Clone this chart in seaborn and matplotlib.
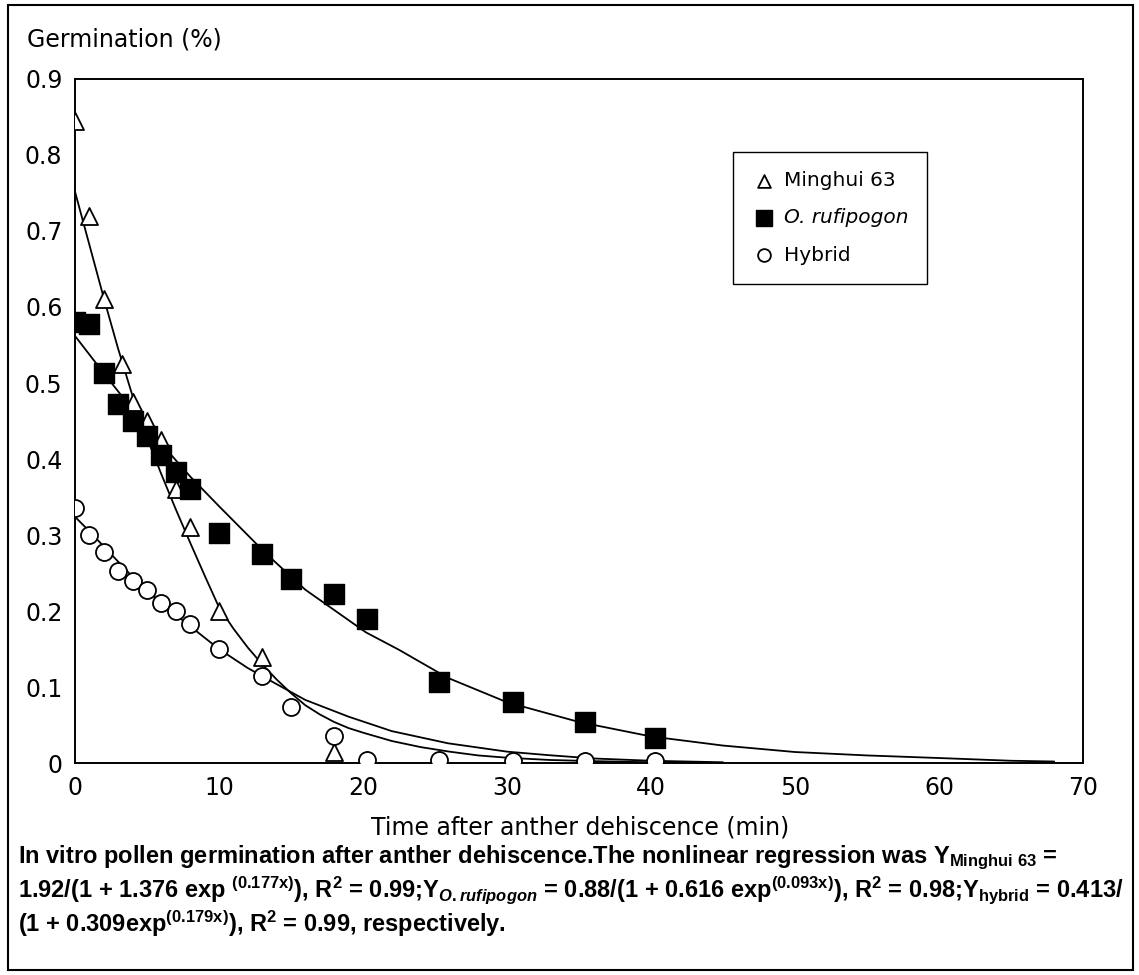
import matplotlib
matplotlib.use("Agg")
import matplotlib.pyplot as plt
import matplotlib.patches as patches
import seaborn as sns

minghui_x = [0, 1, 2, 3.3, 4, 5, 6, 7, 8, 10, 13, 18, 20.3, 25.3, 30.4, 35.4, 40.3]
minghui_y = [0.845, 0.72, 0.61, 0.525, 0.475, 0.45, 0.425, 0.36, 0.31, 0.2, 0.14,
             0.015, 0.004, 0.004, 0.003, 0.003, 0.003]

ruf_x = [0, 1, 2, 3, 4, 5, 6, 7, 8, 10, 13, 15, 18, 20.3, 25.3, 30.4, 35.4, 40.3]
ruf_y = [0.58, 0.577, 0.513, 0.473, 0.45, 0.43, 0.405, 0.383, 0.36, 0.303, 0.275,
         0.242, 0.222, 0.19, 0.107, 0.08, 0.054, 0.033]

hybrid_x = [0, 1, 2, 3, 4, 5, 6, 7, 8, 10, 13, 15, 18, 20.3, 25.3, 30.4, 35.4, 40.3]
hybrid_y = [0.335, 0.3, 0.277, 0.252, 0.24, 0.228, 0.21, 0.2, 0.183, 0.15, 0.115,
            0.074, 0.035, 0.004, 0.004, 0.003, 0.003, 0.003]

# fitted curves
minghui_cx = [0, 1, 2, 3, 4, 5, 6, 7, 8, 9, 10, 11, 12, 13, 14, 15, 16, 17, 18,
              19, 20, 22, 24, 26, 28, 30, 33, 36, 40, 45]
minghui_cy = [0.752, 0.682, 0.612, 0.545, 0.483, 0.428, 0.38, 0.334, 0.29, 0.247,
              0.205, 0.177, 0.152, 0.13, 0.11, 0.092, 0.076, 0.064, 0.054, 0.046,
              0.04, 0.029, 0.021, 0.015, 0.01, 0.007, 0.004, 0.0025, 0.001, 0.0]

hybrid_cx = [0, 1, 2, 3, 4, 5, 6, 7, 8, 10, 12, 13.7, 16, 19, 22, 25.9, 30, 32.8,
             36, 40, 45]
hybrid_cy = [0.324, 0.305, 0.285, 0.265, 0.245, 0.228, 0.21, 0.195, 0.18, 0.15,
             0.125, 0.107, 0.083, 0.061, 0.042, 0.026, 0.015, 0.0105, 0.006, 0.003,
             0.001]

ruf_cx = [0, 2, 4, 6, 8, 10, 13.3, 16, 20.2, 22.5, 25.9, 30, 35, 40, 45, 50, 55,
          60, 65, 68]
ruf_cy = [0.562, 0.513, 0.465, 0.42, 0.377, 0.338, 0.275, 0.228, 0.172, 0.149,
          0.112, 0.08, 0.054, 0.035, 0.023, 0.0145, 0.01, 0.0066, 0.003, 0.002]

x_ticks = [0, 10, 20, 30, 40, 50, 60, 70]
y_ticks = [0, 0.1, 0.2, 0.3, 0.4, 0.5, 0.6, 0.7, 0.8, 0.9]
y_ticklabels = ["0", "0.1", "0.2", "0.3", "0.4", "0.5", "0.6", "0.7", "0.8", "0.9"]

sns.set_style("white")
plt.rcParams["font.family"] = ["DejaVu Sans"]
plt.rcParams["text.color"] = "black"
plt.rcParams["mathtext.fontset"] = "custom"
plt.rcParams["mathtext.rm"] = "Liberation Sans:bold"
plt.rcParams["mathtext.bf"] = "Liberation Sans:bold"
plt.rcParams["mathtext.it"] = "Liberation Sans:italic:bold"

fig = plt.figure(figsize=(11.39, 9.75), dpi=100)
ax = fig.add_axes([0.0658, 0.2174, 0.885, 0.7016])

# curves
for cx, cy in [(minghui_cx, minghui_cy), (hybrid_cx, hybrid_cy), (ruf_cx, ruf_cy)]:
    sns.lineplot(x=cx, y=cy, ax=ax, color="black", lw=1.3, legend=False, zorder=2)

sns.scatterplot(x=minghui_x, y=minghui_y, ax=ax, marker="^", s=150, color="white",
                edgecolor="black", linewidth=1.3, label="Minghui 63", zorder=3)
sns.scatterplot(x=ruf_x, y=ruf_y, ax=ax, marker="s", s=220, color="black",
                edgecolor="black", linewidth=1.0, label="O. rufipogon", zorder=3)
sns.scatterplot(x=hybrid_x, y=hybrid_y, ax=ax, marker="o", s=150, color="white",
                edgecolor="black", linewidth=1.3, label="Hybrid", zorder=3)

ax.set_xlim(0, 70)
ax.set_ylim(0, 0.9)
ax.set_xticks(x_ticks)
ax.set_yticks(y_ticks)
ax.set_yticklabels(y_ticklabels)
ax.set_xlabel("")
ax.set_ylabel("")
ax.tick_params(axis="both", direction="in", length=16, width=1.2, labelsize=17,
               colors="black", pad=9)
for sp in ax.spines.values():
    sp.set_color("black")
    sp.set_linewidth(1.4)

leg = ax.legend(loc="upper left", bbox_to_anchor=(0.653, 0.893), borderaxespad=0,
                frameon=True, fancybox=False, framealpha=1, edgecolor="black",
                fontsize=14.5, markerscale=0.75, handletextpad=0.35,
                labelspacing=0.9, borderpad=0.95, handlelength=1.2)
leg.get_frame().set_linewidth(1.0)
for t in leg.get_texts():
    t.set_color("black")
    if t.get_text().startswith("O."):
        t.set_style("italic")

fig.text(27 / 1139, 1 - 40 / 975, "Germination (%)", fontsize=17, va="center",
         ha="left", color="black")
fig.text(580 / 1139, 1 - 828 / 975, "Time after anther dehiscence (min)",
         fontsize=17, va="center", ha="center", color="black")

cap_font = ["Liberation Sans", "DejaVu Sans"]
cap_lines = [
    "In vitro pollen germination after anther dehiscence.The nonlinear regression was Y$_{\\mathrm{Minghui\\ 63}}$ =",
    "1.92/(1 + 1.376 exp $^{\\mathrm{(0.177x)}}$), R$^{\\mathrm{2}}$ = 0.99;Y$_{\\mathit{O.rufipogon}}$ = 0.88/(1 + 0.616 exp$^{\\mathrm{(0.093x)}}$), R$^{\\mathrm{2}}$ = 0.98;Y$_{\\mathrm{hybrid}}$ = 0.413/",
    "(1 + 0.309exp$^{\\mathrm{(0.179x)}}$), R$^{\\mathrm{2}}$ = 0.99, respectively.",
]
cap_y = [858, 891, 924]
for line, yy in zip(cap_lines, cap_y):
    fig.text(18 / 1139, 1 - yy / 975, line, fontsize=17, fontweight="bold",
             family=cap_font, va="center", ha="left", color="black")

fig.patches.append(patches.Rectangle((8 / 1139, 5 / 975), 1125 / 1139, 965 / 975,
                                     transform=fig.transFigure, fill=False,
                                     edgecolor="black", linewidth=1.5))

fig.savefig("out.png", dpi=100)
